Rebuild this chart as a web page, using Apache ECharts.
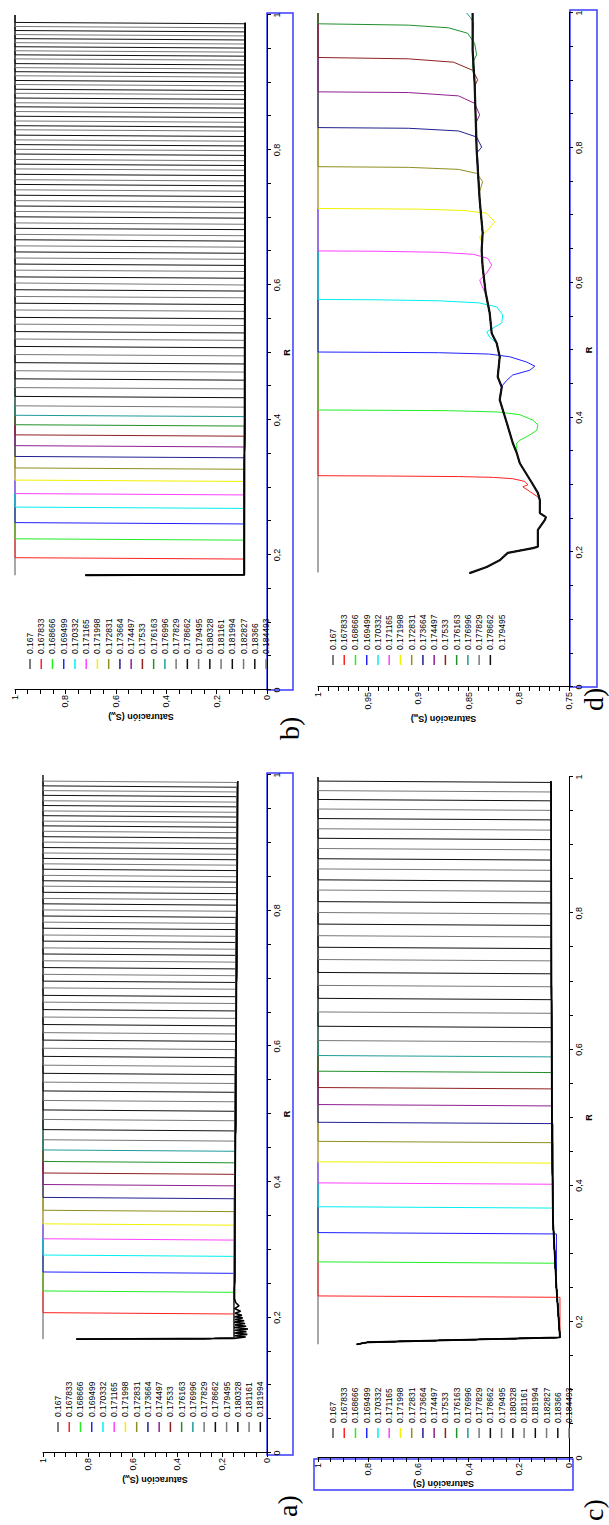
<!DOCTYPE html>
<html>
<head>
<meta charset="utf-8">
<title>Saturación vs R</title>
<script src="https://cdn.jsdelivr.net/npm/echarts@6/dist/echarts.min.js"></script>
<style>
  html, body { margin: 0; padding: 0; background: #fff; overflow: hidden; }
  #page { position: absolute; left: 0; top: 0; width: 609px; height: 1525px; overflow: hidden; }
  /* the figure is drawn in landscape and turned a quarter turn, like the scanned page */
  #chart { position: absolute; left: 0; top: 1525px; width: 1525px; height: 609px;
           transform-origin: 0 0; transform: rotate(-90deg); }
</style>
</head>
<body>
<div id="page"><div id="chart"></div></div>
<script>
// legend labels (time of each profile)
const names = ['0.167', '0.167833', '0.168666', '0.169499', '0.170332', '0.171165', '0.171998',
  '0.172831', '0.173664', '0.174497', '0.17533', '0.176163', '0.176996', '0.177829', '0.178662',
  '0.179495', '0.180328', '0.181161', '0.181994', '0.182827', '0.18366', '0.184493'];

const lineColors = ['#505050', '#ff2020', '#22ee22', '#2020ff', '#00f0f0', '#ff40ff', '#f2f200',
  '#8f8f20', '#20208f', '#8f208f', '#8f2020', '#20902a', '#209a9a'];

// a) front positions R of each profile
const aFront = [0.207, 0.239, 0.267, 0.292, 0.316, 0.338, 0.358, 0.377, 0.396, 0.413, 0.430, 0.447,
  0.462, 0.477, 0.492, 0.506, 0.520, 0.534, 0.547, 0.560, 0.572, 0.585, 0.597, 0.609, 0.620, 0.632,
  0.643, 0.654, 0.665, 0.675, 0.686, 0.696, 0.706, 0.716, 0.726, 0.736, 0.745, 0.755, 0.764, 0.774,
  0.783, 0.792, 0.801, 0.810, 0.818, 0.827, 0.836, 0.844, 0.852, 0.861, 0.869, 0.877, 0.885, 0.893,
  0.901, 0.909, 0.917, 0.925, 0.932, 0.940, 0.947, 0.955, 0.962, 0.970, 0.977, 0.984, 0.991];
const aTrailR = [0.168, 0.169, 0.2, 0.4, 0.6, 0.8, 0.991];
const aTrailS = [0.85, 0.147, 0.146, 0.142, 0.138, 0.134, 0.13];
const aNoiseR = [0.168, 0.169, 0.171, 0.173, 0.175, 0.177, 0.179, 0.181, 0.183, 0.185, 0.187, 0.189,
  0.191, 0.193, 0.195, 0.197, 0.199, 0.201, 0.203, 0.206, 0.209, 0.213, 0.217, 0.222, 0.228];
const aNoiseS = [0.85, 0.148, 0.095, 0.145, 0.088, 0.146, 0.092, 0.144, 0.085, 0.147, 0.093, 0.143,
  0.098, 0.146, 0.102, 0.144, 0.108, 0.145, 0.112, 0.143, 0.118, 0.145, 0.125, 0.14, 0.145];

// b) front positions
const bFront = [0.196, 0.224, 0.248, 0.271, 0.291, 0.311, 0.329, 0.346, 0.362, 0.378, 0.393, 0.407,
  0.421, 0.435, 0.448, 0.461, 0.473, 0.485, 0.497, 0.509, 0.520, 0.531, 0.542, 0.552, 0.563, 0.573,
  0.583, 0.593, 0.603, 0.612, 0.622, 0.631, 0.640, 0.649, 0.658, 0.667, 0.675, 0.684, 0.692, 0.701,
  0.709, 0.717, 0.725, 0.733, 0.741, 0.749, 0.756, 0.764, 0.772, 0.779, 0.786, 0.794, 0.801, 0.808,
  0.815, 0.822, 0.830, 0.836, 0.843, 0.850, 0.857, 0.864, 0.870, 0.877, 0.884, 0.890, 0.897, 0.903,
  0.910, 0.916, 0.922, 0.928, 0.935, 0.941, 0.947, 0.953, 0.959, 0.965, 0.971, 0.977, 0.983, 0.989];
const bTrailR = [0.17, 0.171, 0.2, 0.4, 0.6, 0.8, 0.989];
const bTrailS = [0.72, 0.09, 0.09, 0.089, 0.088, 0.087, 0.087];

// c) front positions
const cFront = [0.238, 0.288, 0.331, 0.369, 0.404, 0.435, 0.465, 0.493, 0.519, 0.544, 0.568, 0.591,
  0.613, 0.634, 0.655, 0.675, 0.694, 0.713, 0.732, 0.750, 0.767, 0.784, 0.801, 0.817, 0.834, 0.849,
  0.865, 0.880, 0.895, 0.910, 0.924, 0.939, 0.953, 0.967, 0.980, 0.994];
const cTrailR = [0.167, 0.170, 0.177, 0.25, 0.35, 0.5, 0.7, 0.994];
const cTrailS = [0.845, 0.80, 0.036, 0.05, 0.064, 0.068, 0.07, 0.072];

// d) zoomed profiles: common trail and the shape of each front
const dTrailR = [0.169, 0.178, 0.188, 0.199, 0.206, 0.208, 0.233, 0.248, 0.252, 0.258, 0.277, 0.288,
  0.303, 0.332, 0.347, 0.362, 0.377, 0.392, 0.426, 0.445, 0.46, 0.49, 0.51, 0.525, 0.555, 0.585,
  0.623, 0.648, 0.674, 0.723, 0.797, 0.846, 0.896, 0.945, 1.0];
const dTrailS = [0.849, 0.832, 0.819, 0.811, 0.786, 0.781, 0.781, 0.774, 0.773, 0.779, 0.779, 0.781,
  0.787, 0.799, 0.802, 0.806, 0.809, 0.812, 0.819, 0.817, 0.821, 0.819, 0.822, 0.827, 0.829, 0.833,
  0.836, 0.837, 0.836, 0.839, 0.842, 0.843, 0.844, 0.846, 0.846];
const dCurveR = [
  [0.282, 0.290, 0.297, 0.300, 0.305, 0.309, 0.311, 0.3122, 0.313, 0.3135],
  [0.362, 0.366, 0.374, 0.381, 0.389, 0.396, 0.404, 0.408, 0.410, 0.4105, 0.411],
  [0.44, 0.448, 0.455, 0.463, 0.470, 0.476, 0.482, 0.490, 0.494, 0.496, 0.4965, 0.497],
  [0.51, 0.519, 0.527, 0.534, 0.540, 0.552, 0.564, 0.570, 0.573, 0.5745, 0.575],
  [0.58, 0.596, 0.604, 0.614, 0.626, 0.636, 0.642, 0.645, 0.6465, 0.647],
  [0.65, 0.660, 0.668, 0.678, 0.690, 0.703, 0.707, 0.709, 0.7095, 0.710],
  [0.725, 0.735, 0.750, 0.762, 0.768, 0.771, 0.772],
  [0.785, 0.792, 0.801, 0.816, 0.825, 0.829, 0.830],
  [0.83, 0.839, 0.849, 0.866, 0.877, 0.882, 0.883],
  [0.885, 0.891, 0.901, 0.915, 0.927, 0.932, 0.934],
  [0.92, 0.926, 0.938, 0.955, 0.970, 0.978, 0.982, 0.984],
  [0.985, 0.993, 1.0]
];
const dCurveS = [
  [0.781, 0.789, 0.796, 0.791, 0.794, 0.806, 0.825, 0.86, 0.93, 1],
  [0.802, 0.799, 0.789, 0.782, 0.781, 0.786, 0.799, 0.82, 0.87, 0.93, 1],
  [0.818, 0.816, 0.812, 0.806, 0.789, 0.784, 0.792, 0.809, 0.83, 0.88, 0.94, 1],
  [0.822, 0.829, 0.832, 0.824, 0.817, 0.816, 0.822, 0.84, 0.88, 0.94, 1],
  [0.832, 0.837, 0.839, 0.832, 0.827, 0.831, 0.845, 0.88, 0.94, 1],
  [0.836, 0.837, 0.839, 0.831, 0.824, 0.832, 0.855, 0.90, 0.95, 1],
  [0.839, 0.839, 0.836, 0.842, 0.86, 0.91, 1],
  [0.841, 0.842, 0.837, 0.842, 0.86, 0.91, 1],
  [0.842, 0.842, 0.839, 0.844, 0.86, 0.91, 1],
  [0.844, 0.844, 0.841, 0.846, 0.865, 0.91, 1],
  [0.846, 0.846, 0.842, 0.844, 0.851, 0.87, 0.91, 1],
  [0.845, 0.848, 0.852]
];

const FONT = 'Liberation Sans';

function colorOf(i) {
  if (i < lineColors.length) return lineColors[i];
  return i % 2 ? '#777777' : '#111111';
}

function zip(r, s) {
  return r.map((v, k) => [v, s[k]]);
}

function line(name, gi, color, data, width) {
  return {
    type: 'line', name: name, xAxisIndex: gi, yAxisIndex: gi, data: data,
    symbol: 'none', showSymbol: false, clip: false, animation: false, silent: true,
    lineStyle: { color: color, width: width || 1 }, itemStyle: { color: color }
  };
}

// profile: trail below the front, a sharp rise at the front, then saturated to R = 1
function frontLine(front, trailR, trailS) {
  const pts = [];
  for (let k = 0; k < trailR.length; k++) {
    if (trailR[k] < front - 0.002) pts.push([trailR[k], trailS[k]]);
  }
  const last = pts[pts.length - 1];
  pts.push([front - 0.002, last[1]], [front, 1], [1, 1]);
  return pts;
}

function stepPanel(tag, gi, fronts, trailR, trailS, legendCount) {
  const out = [line(names[0], gi, colorOf(0), [[trailR[0], 1], [1, 1]])];
  fronts.forEach((f, k) => {
    const i = k + 1;
    const nm = i < legendCount ? names[i] : tag + i;
    out.push(line(nm, gi, colorOf(i), frontLine(f, trailR, trailS)));
  });
  return out;
}

const series = [];
// a)
series.push(...stepPanel('a', 0, aFront, aTrailR, aTrailS, 19));
const aLastNoise = aNoiseR[aNoiseR.length - 1];
series.push(line('atrail', 0, '#000',
  zip(aNoiseR, aNoiseS).concat(zip(aTrailR, aTrailS).filter(p => p[0] > aLastNoise)), 1.6));
// b)
series.push(...stepPanel('b', 1, bFront, bTrailR, bTrailS, 22));
series.push(line('btrail', 1, '#000', zip(bTrailR, bTrailS), 1.8));
// c)
series.push(...stepPanel('c', 2, cFront, cTrailR, cTrailS, 22));
series.push(line('ctrail', 2, '#000', zip(cTrailR, cTrailS), 1.8));
// d)
series.push(line(names[0], 3, colorOf(0), [[0.17, 1], [1, 1]]));
dCurveR.forEach((cr, k) => {
  const i = k + 1;
  const pts = zip(dTrailR, dTrailS).filter(p => p[0] < cr[0]).concat(zip(cr, dCurveS[k]));
  if (cr[cr.length - 1] < 1) pts.push([1, 1]);
  series.push(line(names[i], 3, colorOf(i), pts));
});
[13, 14, 15].forEach(i => {
  series.push(line(names[i], 3, '#111111', zip(dTrailR, dTrailS), i === 15 ? 2.2 : 1));
});

const fmt = v => String(Math.round(v * 100) / 100).replace('.', ',');

const axisCommon = {
  type: 'value',
  axisLine: { show: true, onZero: false, lineStyle: { color: '#000', width: 1 } },
  axisTick: { show: true, length: 4, lineStyle: { color: '#000' } },
  minorTick: { show: true, length: 4, lineStyle: { color: '#000' } },
  splitLine: { show: false },
  minorSplitLine: { show: false },
  axisLabel: { formatter: fmt, fontFamily: FONT, fontSize: 9, color: '#000', margin: 5 }
};

function rAxis(gi) {
  return Object.assign({}, axisCommon, {
    gridIndex: gi, min: 0, max: 1, interval: 0.2,
    minorTick: Object.assign({}, axisCommon.minorTick, { splitNumber: 4 }),
    name: 'R', nameLocation: 'middle', nameGap: 15,
    nameTextStyle: { fontFamily: FONT, fontWeight: 'bold', fontSize: 9, color: '#000' }
  });
}

function sAxis(gi, min, interval, split, sub) {
  return Object.assign({}, axisCommon, {
    gridIndex: gi, min: min, max: 1, interval: interval,
    minorTick: Object.assign({}, axisCommon.minorTick, { splitNumber: split }),
    name: sub ? 'Saturación (S{w|w})' : 'Saturación (S)',
    nameLocation: 'middle', nameGap: 19,
    nameTextStyle: {
      fontFamily: FONT, fontWeight: 'bold', fontSize: 9, color: '#000',
      rich: { w: { fontFamily: FONT, fontWeight: 'bold', fontSize: 6, color: '#000', padding: [5, 0, 0, 0] } }
    }
  });
}

function legend(list, left, top) {
  return {
    orient: 'vertical', left: left, top: top, padding: 0, itemGap: 1.24,
    itemWidth: 10, itemHeight: 1.5, icon: 'rect', selectedMode: false,
    textStyle: { fontFamily: FONT, fontSize: 8.5, color: '#000', lineHeight: 10 },
    data: list
  };
}

const dLegend = names.slice(0, 15).concat([{ name: names[15], itemStyle: { opacity: 0 } }]);

function box(x, y, w, h) {
  return { type: 'rect', shape: { x: x, y: y, width: w, height: h }, silent: true,
    style: { fill: 'none', stroke: '#3b3bff', lineWidth: 1.5 } };
}

function tag(text, x, y) {
  return { type: 'text', x: x, y: y, silent: true,
    style: { text: text, font: '28px "Liberation Serif"', fill: '#000', verticalAlign: 'middle' } };
}

const option = {
  backgroundColor: '#fff',
  animation: false,
  grid: [
    { left: 72, top: 43, width: 678, height: 224 },
    { left: 835, top: 15, width: 675, height: 252 },
    { left: 67, top: 318, width: 681, height: 251 },
    { left: 838, top: 318, width: 674, height: 251 }
  ],
  xAxis: [rAxis(0), rAxis(1), rAxis(2), rAxis(3)],
  yAxis: [sAxis(0, 0, 0.2, 4, true), sAxis(1, 0, 0.2, 4, true), sAxis(2, 0, 0.2, 4, false),
    sAxis(3, 0.75, 0.05, 5, true)],
  legend: [
    legend(names.slice(0, 19), 93, 53),
    legend(names.slice(0, 22), 856, 25),
    legend(names.slice(0, 22), 87, 328),
    legend(dLegend, 860, 328)
  ],
  graphic: [
    box(70, 267, 682, 26), box(835, 267, 677, 26), box(35, 314, 31, 259), box(838, 570, 677, 27),
    tag('a)', 8, 287), tag('b)', 785, 289), tag('c)', 4, 593), tag('d)', 814, 593)
  ],
  series: series
};

const chart = echarts.init(document.getElementById('chart'), null, { renderer: 'svg', width: 1525, height: 609 });
chart.setOption(option);
</script>
</body>
</html>
